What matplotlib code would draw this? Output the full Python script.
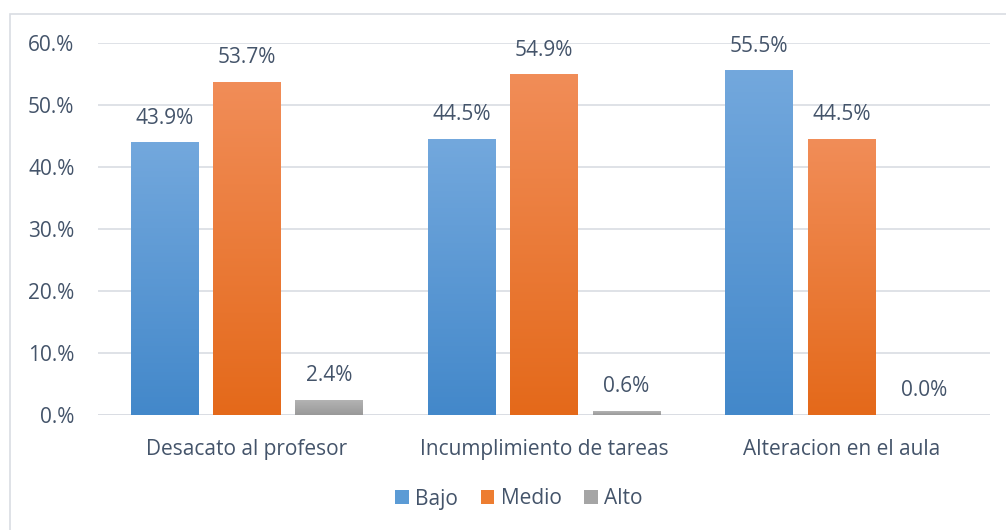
import numpy as np
import matplotlib
matplotlib.use("Agg")
import matplotlib.pyplot as plt
from matplotlib.patches import Rectangle, Patch
from matplotlib.colors import LinearSegmentedColormap

categories = ["Desacato al profesor", "Incumplimiento de tareas", "Alteracion en el aula"]
series_names = ["Bajo", "Medio", "Alto"]
bajo = [43.9, 44.5, 55.5]
medio = [53.7, 54.9, 44.5]
alto = [2.4, 0.6, 0.0]
yticks = [0, 10, 20, 30, 40, 50, 60]
ytick_labels = ["0.%", "10.%", "20.%", "30.%", "40.%", "50.%", "60.%"]

values = [bajo, medio, alto]
grads = [("#4388CA", "#73A8DD"), ("#E4691A", "#F18D58"), ("#999999", "#B3B3B3")]
solid = ["#5B9BD5", "#ED7D31", "#A5A5A5"]
txt = "#44546A"
FONT = "Open Sans"
FS = 15

fig = plt.figure(figsize=(10.06, 5.30), dpi=100)
W, H = 1006, 530
ax = fig.add_axes([98 / W, 1 - 415 / H, (990 - 98) / W, (415 - 43) / H])

# figure border
fig.patches.append(Rectangle((10 / W, -0.1), 1.2, 1 - 14 / H + 0.1, transform=fig.transFigure,
                             fill=False, edgecolor="#D9DDE3", linewidth=1.2, zorder=0))

x = np.arange(len(categories))
bw = 0.226
step = 0.277
for i, vals in enumerate(values):
    pos = x + (i - 1) * step
    bars = ax.bar(pos, vals, width=bw, color=solid[i], zorder=2, label=series_names[i])
    cmap = LinearSegmentedColormap.from_list("g%d" % i, [grads[i][0], grads[i][1]])
    for b, v in zip(bars, vals):
        b.set_facecolor("none")
        b.set_edgecolor("none")
        if v > 0:
            x0, y0 = b.get_x(), b.get_y()
            grad = np.linspace(0, 1, 256).reshape(-1, 1)
            ax.imshow(grad, cmap=cmap, origin="lower", aspect="auto",
                      extent=[x0, x0 + b.get_width(), y0, y0 + b.get_height()],
                      zorder=2, interpolation="bilinear")
        ax.annotate(f"{v:.1f}%", (b.get_x() + b.get_width() / 2, v), xytext=(0, 10),
                    textcoords="offset points", ha="center", va="bottom",
                    fontsize=FS, color=txt, family=FONT)

ax.set_xlim(-0.5, 2.5)
ax.set_ylim(0, 60)
ax.set_yticks(yticks)
ax.set_yticklabels(ytick_labels, fontsize=FS, color=txt, family=FONT)
ax.set_xticks(x)
ax.set_xticklabels(categories, fontsize=FS, color=txt, family=FONT)
ax.tick_params(axis="y", length=0, pad=17)
ax.tick_params(axis="x", length=0, pad=17)
ax.grid(axis="y", color="#D9DDE3", linewidth=1.2, zorder=0)
ax.set_axisbelow(True)
for s in ax.spines.values():
    s.set_visible(False)
ax.axhline(0, color="#D9DDE3", linewidth=1.2, zorder=1)

handles = [Patch(facecolor=solid[i], label=series_names[i]) for i in range(3)]
fig.legend(handles=handles, loc="center", bbox_to_anchor=(519 / W, 1 - 499 / H), ncol=3,
           frameon=False, prop={"family": FONT, "size": FS}, labelcolor=txt,
           handlelength=0.65, handleheight=0.65, handletextpad=0.3, columnspacing=1.1)

fig.savefig("out.png", dpi=100)
